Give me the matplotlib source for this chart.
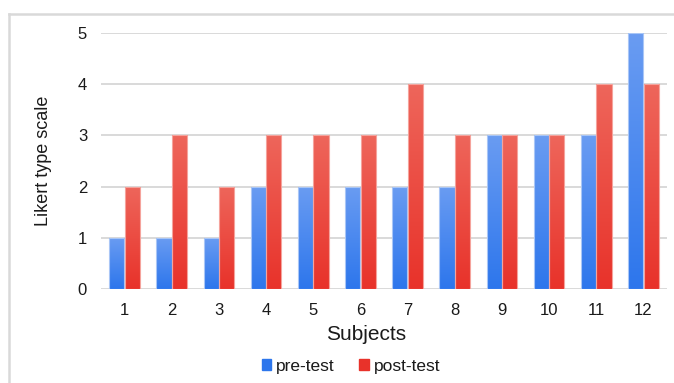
import numpy as np
import matplotlib.pyplot as plt
from matplotlib.colors import LinearSegmentedColormap
from matplotlib.lines import Line2D
from matplotlib.patches import Patch

plt.rcParams["font.family"] = ["Liberation Sans", "DejaVu Sans"]

# ── Data ─────────────────────────────────────────────
subjects = np.arange(1, 13)
pre_test = [1, 1, 1, 2, 2, 2, 2, 2, 3, 3, 3, 5]
post_test = [2, 3, 2, 3, 3, 3, 4, 3, 3, 3, 4, 4]
y_ticks = [0, 1, 2, 3, 4, 5]

BLUE_TOP, BLUE_BOT = "#6a9cf2", "#2d76ec"
RED_TOP, RED_BOT = "#ee665b", "#e8322a"


def gradient_bars(ax, bars, top, bottom, edge):
    cmap = LinearSegmentedColormap.from_list("g", [bottom, top])
    grad = np.linspace(0, 1, 256).reshape(-1, 1)
    for b in bars:
        x0, y0 = b.get_x(), b.get_y()
        w, h = b.get_width(), b.get_height()
        im = ax.imshow(grad, cmap=cmap, extent=[x0, x0 + w, y0, y0 + h],
                       origin="lower", aspect="auto", zorder=2)
        im.set_clip_path(b)
        b.set_facecolor("none")
        b.set_edgecolor(edge)
        b.set_linewidth(0.8)
        b.set_zorder(3)


fig = plt.figure(figsize=(6.74, 3.83), dpi=100)
ax = fig.add_axes([101 / 674, 1 - 289 / 383, 566 / 674, 256 / 383])

width = 0.32
b1 = ax.bar(subjects - 0.165, pre_test, width)
b2 = ax.bar(subjects + 0.165, post_test, width)
gradient_bars(ax, b1, BLUE_TOP, BLUE_BOT, "#a9c6f6")
gradient_bars(ax, b2, RED_TOP, RED_BOT, "#f5a39c")

ax.set_xlim(0.5, 12.5)
ax.set_ylim(0, 5)
ax.set_xticks(subjects)
ax.set_yticks(y_ticks)
ax.tick_params(axis="both", length=0, labelsize=12, colors="#1a1a1a")
ax.tick_params(axis="x", pad=10)
ax.tick_params(axis="y", pad=10)
ax.yaxis.grid(True, color="#d9d9d9", linewidth=1.4, zorder=0)
ax.set_axisbelow(True)
for s in ax.spines.values():
    s.set_visible(False)

fig.text(366 / 674, 1 - 335 / 383, "Subjects", ha="center", va="center",
         fontsize=15, color="#1a1a1a")
fig.text(44 / 674, 1 - 161 / 383, "Likert type scale", ha="center", va="center",
         rotation=90, fontsize=13, color="#1a1a1a")

handles = [Patch(color=BLUE_BOT, label="pre-test"), Patch(color=RED_BOT, label="post-test")]
fig.legend(handles=handles, loc="center", bbox_to_anchor=(351 / 674, 1 - 366 / 383),
           ncol=2, frameon=False, fontsize=12.5, handlelength=0.55, handleheight=0.55,
           handletextpad=0.3, columnspacing=1.4, labelcolor="#1a1a1a")

# light frame around the chart (left and top edges visible)
fig.add_artist(Line2D([8.5 / 674, 8.5 / 674], [0, 1 - 13.5 / 383], color="#d9d9d9", lw=1.8))
fig.add_artist(Line2D([8.5 / 674, 1], [1 - 13.5 / 383, 1 - 13.5 / 383], color="#d9d9d9", lw=1.8))

fig.savefig("out.png", dpi=100)
